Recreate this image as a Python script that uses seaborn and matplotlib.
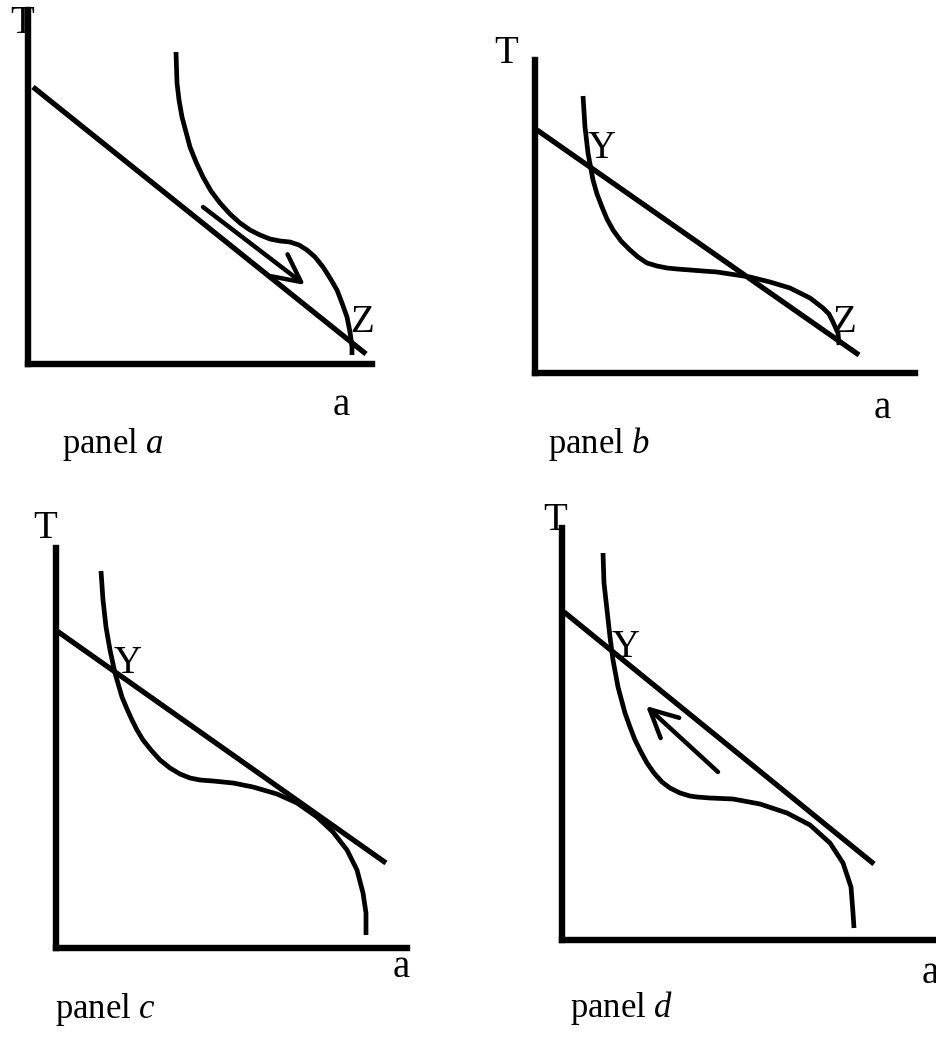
import matplotlib
matplotlib.use("Agg")
import matplotlib.pyplot as plt
import seaborn as sns

W, H = 937, 1040

# axis frames: left x, bottom y, top y, right x
frame_a = [28, 364, 10, 372]
frame_b = [535, 373, 60, 915]
frame_c = [56, 948, 548, 407]
frame_d = [562, 940, 528, 935]

# straight lines (start, end)
line_a_x = [33, 366]
line_a_y = [87, 354]
line_b_x = [537, 859]
line_b_y = [130, 355]
line_c_x = [57, 386]
line_c_y = [631, 863]
line_d_x = [564, 874]
line_d_y = [612, 864]

# curves
curve_a_x = [176, 177, 179, 182, 186, 190, 196, 203, 211, 220, 230, 240, 250, 260, 270, 280, 290,
             299, 307, 315, 323, 330, 337, 342, 347, 350, 352, 352]
curve_a_y = [52, 83, 100, 117, 132, 147, 162, 177, 191, 203, 214, 223, 230, 235, 239, 241, 242,
             245, 250, 257, 267, 278, 290, 303, 317, 332, 347, 355]
curve_b_x = [583, 585, 588, 593, 597, 602, 607, 613, 621, 630, 638, 647, 657, 667, 677, 690, 703,
             717, 730, 750, 770, 790, 810, 823, 829, 833, 838, 839]
curve_b_y = [96, 127, 153, 180, 194, 207, 219, 230, 241, 250, 257, 263, 266, 268, 269, 270, 271,
             272, 274, 277, 282, 288, 298, 308, 314, 322, 333, 345]
curve_c_x = [101, 103, 106, 110, 115, 122, 127, 132, 137, 143, 151, 160, 170, 180, 190, 200, 213,
             233, 253, 277, 297, 317, 333, 347, 357, 363, 366, 366]
curve_c_y = [571, 600, 627, 650, 673, 697, 709, 720, 730, 740, 750, 760, 768, 774, 778, 780, 781,
             783, 787, 794, 803, 817, 832, 850, 870, 893, 913, 935]
curve_d_x = [603, 604, 607, 610, 613, 618, 625, 630, 635, 641, 647, 654, 662, 670, 680, 690, 697,
             710, 733, 760, 787, 810, 830, 843, 851, 853, 854]
curve_d_y = [553, 583, 610, 637, 660, 687, 713, 727, 740, 752, 763, 773, 782, 788, 793, 796, 797,
             798, 799, 804, 813, 825, 843, 863, 887, 913, 928]

# arrows (tail, head)
arrow_a = [(203, 207), (305, 285)]
arrow_d = [(718, 772), (646, 706)]

# labels: text, x, baseline y
labels_a = [("T", 22, 33), ("Z", 362, 332), ("a", 341, 415)]
labels_b = [("T", 506, 63), ("Y", 602, 158), ("Z", 844, 332), ("a", 882, 418)]
labels_c = [("T", 45, 538), ("Y", 128, 673), ("a", 401, 977)]
labels_d = [("T", 555, 530), ("Y", 626, 657), ("a", 930, 983)]
panel_names = [("panel $a$", 62, 453), ("panel $b$", 548, 453),
               ("panel $c$", 55, 1018), ("panel $d$", 570, 1017)]

sns.set_theme(style="white")
plt.rcParams["font.family"] = ["Liberation Serif", "DejaVu Serif"]
plt.rcParams["mathtext.fontset"] = "custom"
plt.rcParams["mathtext.rm"] = "Liberation Serif"
plt.rcParams["mathtext.it"] = "Liberation Serif:italic"
plt.rcParams["text.color"] = "black"

fig = plt.figure(figsize=(W / 100, H / 100), dpi=100)
fig.patch.set_facecolor("white")

panels = [
    (frame_a, line_a_x, line_a_y, curve_a_x, curve_a_y, arrow_a, labels_a, panel_names[0]),
    (frame_b, line_b_x, line_b_y, curve_b_x, curve_b_y, None, labels_b, panel_names[1]),
    (frame_c, line_c_x, line_c_y, curve_c_x, curve_c_y, None, labels_c, panel_names[2]),
    (frame_d, line_d_x, line_d_y, curve_d_x, curve_d_y, arrow_d, labels_d, panel_names[3]),
]

for frame, lx, ly, cx, cy, arrow, labels, pname in panels:
    left, bottom, top, right = frame
    ax = fig.add_axes([left / W, 1 - bottom / H, (right - left) / W, (bottom - top) / H])
    ax.set_xlim(left, right)
    ax.set_ylim(bottom, top)
    ax.set_facecolor("none")
    for s in ["top", "right"]:
        ax.spines[s].set_visible(False)
    for s in ["left", "bottom"]:
        ax.spines[s].set_color("black")
        ax.spines[s].set_linewidth(4.6)
        ax.spines[s].set_capstyle("projecting")
    ax.set_xticks([])
    ax.set_yticks([])

    sns.lineplot(x=lx, y=ly, color="black", linewidth=3.8, ax=ax, sort=False, estimator=None)
    sns.lineplot(x=cx, y=cy, color="black", linewidth=3.4, ax=ax, sort=False, estimator=None)
    for l in ax.lines:
        l.set_clip_on(False)
        l.set_solid_capstyle("butt")
        l.set_solid_joinstyle("round")

    if arrow is not None:
        ax.annotate("", xy=arrow[1], xytext=arrow[0],
                    arrowprops=dict(arrowstyle="->, head_length=1.1, head_width=0.55",
                                    color="black", lw=3.2, mutation_scale=18,
                                    shrinkA=0, shrinkB=0))

    for txt, x, y in labels:
        ax.text(x, y, txt, fontsize=28, color="black", ha="center", va="baseline", clip_on=False)
    ax.text(pname[1], pname[2], pname[0], fontsize=25, color="black", ha="left", va="baseline",
            clip_on=False)

plt.savefig("out.png", dpi=100, facecolor="white")
